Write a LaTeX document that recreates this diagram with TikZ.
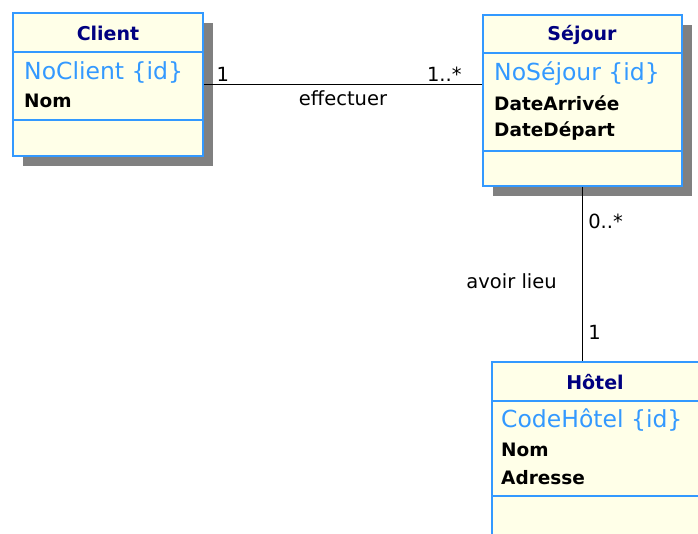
\documentclass[tikz,border=0pt]{standalone}
\usepackage{fontspec}
\setmainfont{DejaVu Sans}
\usetikzlibrary{shadows}
\definecolor{umlblue}{RGB}{51,153,255}
\definecolor{umlfill}{RGB}{255,255,232}
\definecolor{umlnavy}{RGB}{0,0,128}

\tikzset{
  classe/.style={draw=umlblue, fill=umlfill, line width=1.6pt, inner sep=0pt,
    drop shadow={shadow xshift=10pt, shadow yshift=-10pt, fill=gray, opacity=1}},
  sep/.style={draw=umlblue, line width=1.6pt},
  titre/.style={inner sep=0pt, font=\fontsize{19}{21}\selectfont\bfseries, text=umlnavy},
  cle/.style={anchor=west, inner sep=0pt, font=\fontsize{23.5}{25}\selectfont, text=umlblue},
  attr/.style={anchor=west, inner sep=0pt, font=\fontsize{18.5}{20}\selectfont\bfseries},
  lbl/.style={font=\fontsize{19.5}{21}\selectfont, inner sep=1pt}
}

\begin{document}
\begin{tikzpicture}[x=1pt, y=-1pt]
  \useasboundingbox[fill=white] (0,0) rectangle (698,533);

  % classes
  \node[classe, minimum width=190pt, minimum height=143pt] (client) at (108,84.5) {};
  \node[classe, minimum width=199pt, minimum height=171pt] (sejour) at (582.5,100.5) {};
  \node[classe, minimum width=213pt, minimum height=183pt] (hotel) at (598.5,453.5) {};

  % compartiments
  \draw[sep] (client.west |- 0,52) -- (client.east |- 0,52);
  \draw[sep] (client.west |- 0,120) -- (client.east |- 0,120);
  \draw[sep] (sejour.west |- 0,53) -- (sejour.east |- 0,53);
  \draw[sep] (sejour.west |- 0,151) -- (sejour.east |- 0,151);
  \draw[sep] (hotel.west |- 0,401) -- (hotel.east |- 0,401);
  \draw[sep] (hotel.west |- 0,496) -- (hotel.east |- 0,496);

  % textes
  \node[titre] (clientT) at (108,33) {Client};
  \node[cle] (clientK) at (24,72) {NoClient \{id\}};
  \node[attr] (clientA) at (24,101) {Nom};

  \node[titre] (sejourT) at (582,35) {Séjour};
  \node[cle] (sejourK) at (494,74) {NoSéjour \{id\}};
  \node[attr] (sejourA) at (494,103) {DateArrivée};
  \node[attr] (sejourB) at (494,131) {DateDépart};

  \node[titre] (hotelT) at (595,382) {Hôtel};
  \node[cle] (hotelK) at (501,420) {CodeHôtel \{id\}};
  \node[attr] (hotelA) at (501,450) {Nom};
  \node[attr] (hotelB) at (501,478) {Adresse};

  % associations
  \draw[line width=1.6pt] (client.east) -- (client.east -| sejour.west)
    node[lbl, pos=0.068, above=1pt] (m1) {1}
    node[lbl, pos=0.864, above=1pt] (m2) {1..*}
    node[lbl, pos=0.5, below=4pt] (effectuer) {effectuer};
  \draw[line width=1.6pt] (sejour.south) -- (sejour.south |- hotel.north)
    node[lbl, pos=0.2, right=4pt] (m3) {0..*}
    node[lbl, pos=0.54, left=24pt] (avoir) {avoir lieu}
    node[lbl, pos=0.835, right=4pt] (m4) {1};
\end{tikzpicture}
\end{document}
